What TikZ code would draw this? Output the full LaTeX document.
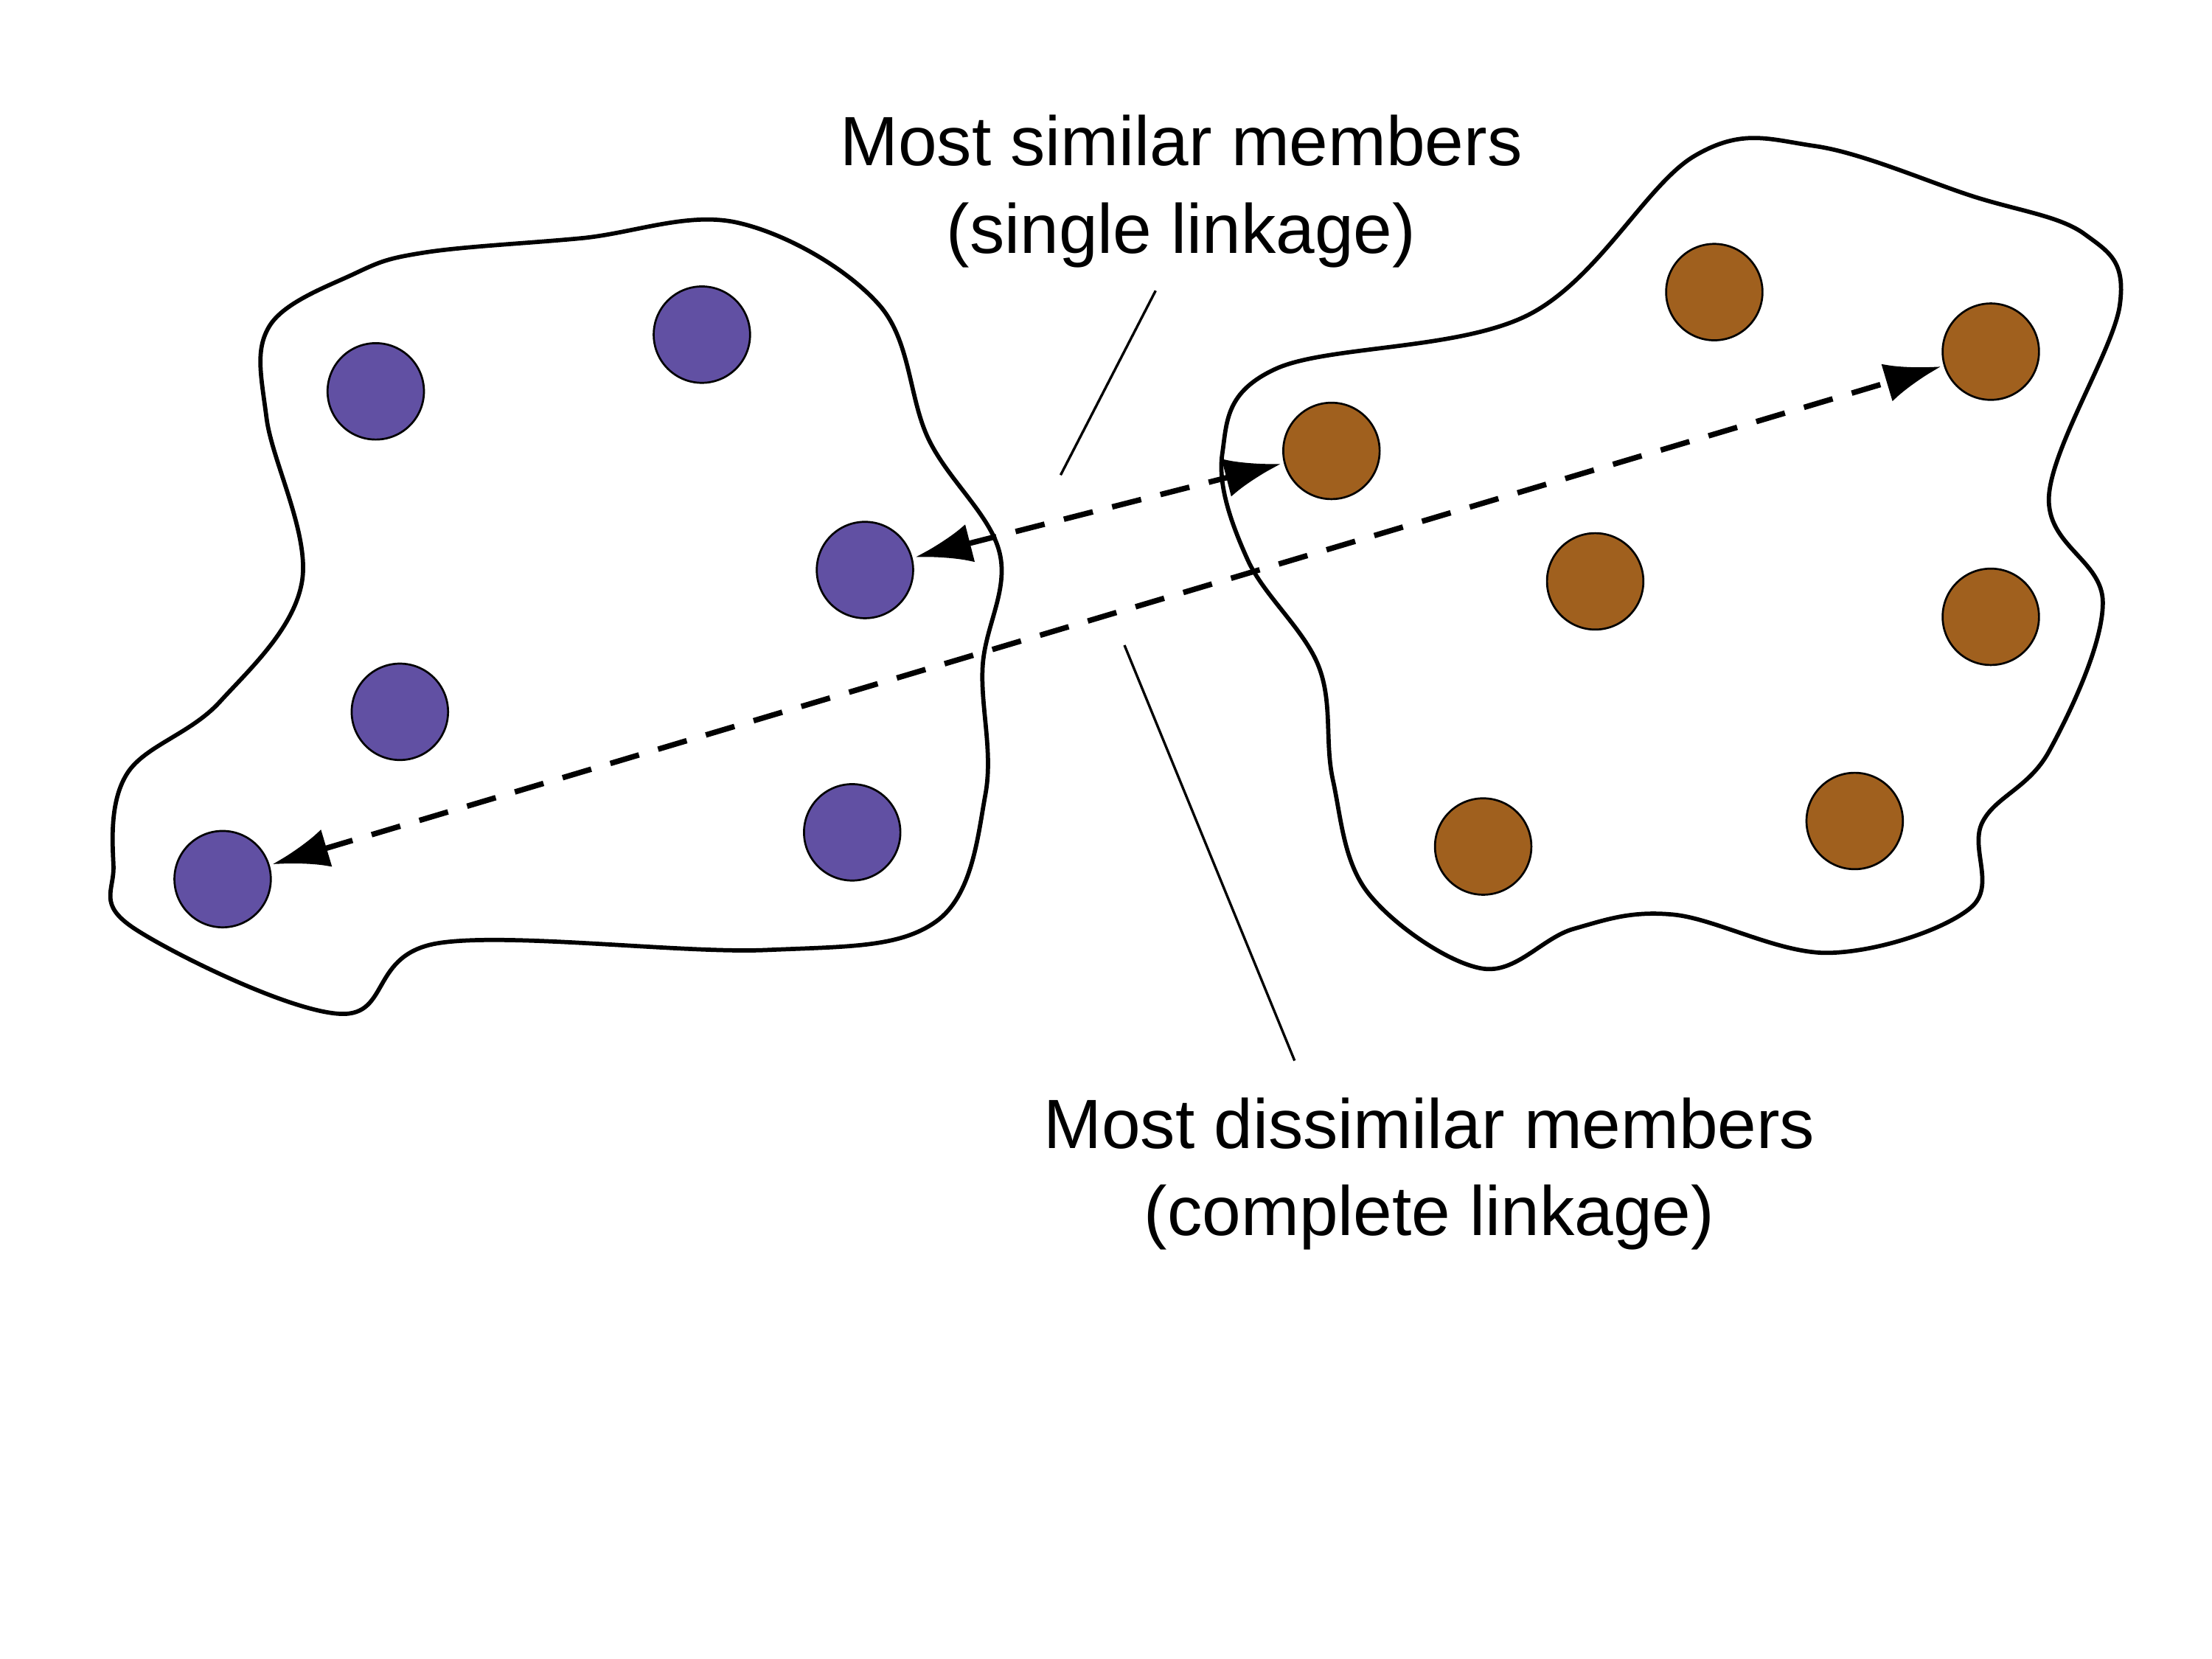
\documentclass[tikz,border=0pt]{standalone}
\usepackage{fontspec}
\setmainfont{Liberation Sans}
\usetikzlibrary{arrows.meta}
\definecolor{pur}{HTML}{6150A3}
\definecolor{brn}{HTML}{A0601E}
\begin{document}
\begin{tikzpicture}[x=0.02cm,y=-0.02cm,
 pt/.style={circle,draw=black,line width=0.8pt,minimum size=1.36cm,inner sep=0},
 blob/.style={line width=1.7pt},
 lnk/.style={line width=2.2pt,dash pattern=on 12pt off 8pt,{Latex[length=0.8cm,width=0.55cm]}-{Latex[length=0.8cm,width=0.55cm]},shorten <=1pt,shorten >=1pt},
 lbl/.style={font=\fontsize{28}{35}\selectfont,align=center},
 lead/.style={line width=1pt}]
\useasboundingbox (0,0) rectangle (1560,1170);
\draw[blob] plot[smooth cycle,tension=0.6] coordinates {(250,193) (300,178) (410,168) (520,157) (620,215) (655,310) (705,390) (693,470) (695,560) (660,650) (540,670) (310,665) (240,715) (95,655) (80,610) (90,545) (155,495) (213,410) (188,295) (190,230)};
\draw[blob] plot[smooth cycle,tension=0.6] coordinates {(1078,222) (1195,110) (1280,103) (1390,138) (1470,165) (1495,215) (1445,350) (1483,425) (1445,530) (1398,580) (1390,640) (1290,672) (1180,645) (1110,655) (1045,683) (965,630) (940,550) (930,470) (880,395) (862,320) (900,260)};
\node[pt,fill=pur] (p1) at (265,276) {};
\node[pt,fill=pur] (p2) at (495,236) {};
\node[pt,fill=pur] (p3) at (610,402) {};
\node[pt,fill=pur] (p4) at (282,502) {};
\node[pt,fill=pur] (p5) at (601,587) {};
\node[pt,fill=pur] (p6) at (157,620) {};
\node[pt,fill=brn] (b1) at (1209,206) {};
\node[pt,fill=brn] (b2) at (1404,248) {};
\node[pt,fill=brn] (b3) at (939,318) {};
\node[pt,fill=brn] (b4) at (1125,410) {};
\node[pt,fill=brn] (b5) at (1404,435) {};
\node[pt,fill=brn] (b6) at (1046,597) {};
\node[pt,fill=brn] (b7) at (1308,579) {};
\draw[lnk] (p3) -- (b3);
\draw[lnk] (p6) -- (b2);
\node[lbl] (t1) at (833,135) {Most similar members\\(single linkage)};
\node[lbl] (t2) at (1008,828) {Most dissimilar members\\(complete linkage)};
\coordinate (a1) at (815,205); \coordinate (a2) at (748,335);
\coordinate (c1) at (793,455); \coordinate (c2) at (913,748);
\draw[lead] (a1) -- (a2);
\draw[lead] (c1) -- (c2);
\end{tikzpicture}
\end{document}
